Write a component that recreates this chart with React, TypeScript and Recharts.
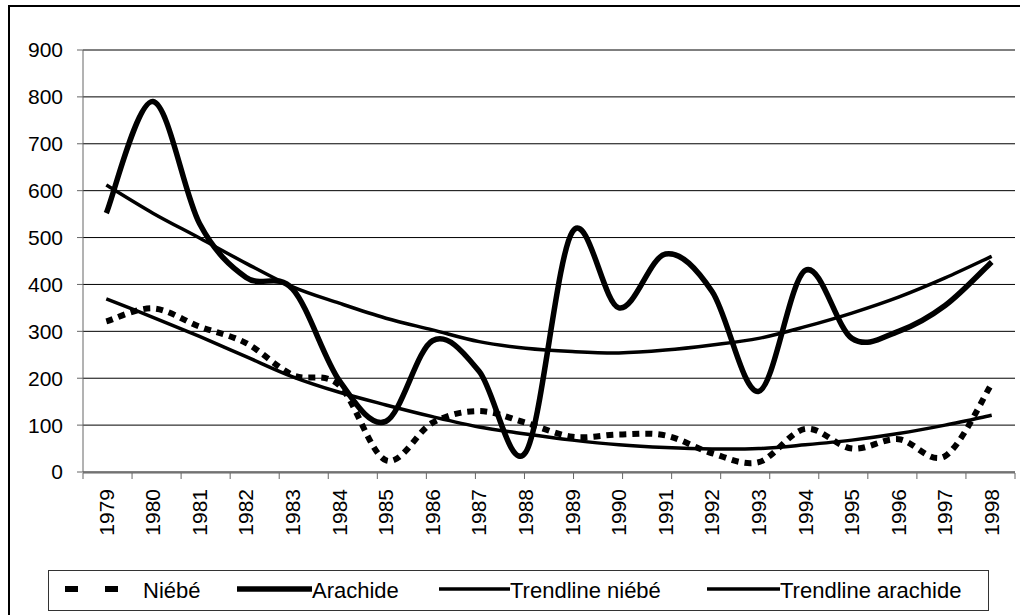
import { LineChart, Line, XAxis, YAxis, CartesianGrid, ReferenceArea } from "recharts";

const years = [
  "1979", "1980", "1981", "1982", "1983", "1984", "1985", "1986", "1987", "1988",
  "1989", "1990", "1991", "1992", "1993", "1994", "1995", "1996", "1997", "1998",
];
const niebe = [321, 349, 310, 275, 207, 185, 25, 105, 130, 105, 75, 80, 78, 40, 21, 92, 50, 70, 34, 188];
const arachide = [552, 790, 530, 415, 390, 195, 108, 280, 215, 42, 512, 350, 465, 385, 172, 430, 285, 300, 355, 448];
const trendNiebe = [369, 330, 289, 246, 203, 170, 143, 118, 96, 81, 68, 58, 52, 49, 50, 58, 68, 82, 100, 121];
const trendArachide = [612, 552, 499, 445, 395, 360, 328, 303, 278, 264, 257, 254, 260, 271, 285, 310, 339, 373, 414, 460];
const yTicks = [0, 100, 200, 300, 400, 500, 600, 700, 800, 900];

const data = years.map((year, i) => ({
  year,
  niebe: niebe[i],
  arachide: arachide[i],
  trendNiebe: trendNiebe[i],
  trendArachide: trendArachide[i],
}));

const edgeTicks = years.map((_, i) => i).concat([years.length]);
const font = "'Liberation Sans', Arial, sans-serif";

// smoothed line like the spreadsheet one (catmull-rom style bezier)
const smooth = (context: any) => {
  let pts: number[][] = [];
  return {
    areaStart() {},
    areaEnd() {},
    lineStart() {
      pts = [];
    },
    point(x: number, y: number) {
      pts.push([+x, +y]);
    },
    lineEnd() {
      if (!pts.length) return;
      context.moveTo(pts[0][0], pts[0][1]);
      for (let i = 0; i < pts.length - 1; i++) {
        const p0 = pts[i - 1] || pts[i];
        const p1 = pts[i];
        const p2 = pts[i + 1];
        const p3 = pts[i + 2] || p2;
        context.bezierCurveTo(
          p1[0] + (p2[0] - p0[0]) / 6,
          p1[1] + (p2[1] - p0[1]) / 6,
          p2[0] - (p3[0] - p1[0]) / 6,
          p2[1] - (p3[1] - p1[1]) / 6,
          p2[0],
          p2[1]
        );
      }
    },
  };
};

const YearTick = ({ x, y, payload }: any) => (
  <text
    x={x}
    y={y}
    transform={`rotate(-90 ${x} ${y})`}
    textAnchor="end"
    dy="0.35em"
    fontSize={21}
    fontFamily={font}
    fill="#000"
  >
    {payload.value}
  </text>
);

const ChartLegend = () => (
  <svg
    width={941}
    height={41}
    style={{ position: "absolute", left: 48, top: 570 }}
    fontFamily={font}
    fontSize={22}
  >
    <rect x={0.5} y={0.5} width={940} height={40} fill="#fff" stroke="#333" />
    <rect x={17} y={16} width={13} height={6} fill="#000" />
    <rect x={57} y={16} width={13} height={6} fill="#000" />
    <text x={95} y={28}>Niébé</text>
    <line x1={189} x2={264} y1={19} y2={19} stroke="#000" strokeWidth={5.5} />
    <text x={264} y={28}>Arachide</text>
    <line x1={391} x2={462} y1={19} y2={19} stroke="#000" strokeWidth={3.5} />
    <text x={462} y={28}>Trendline niébé</text>
    <line x1={659} x2={732} y1={19} y2={19} stroke="#000" strokeWidth={3.5} />
    <text x={732} y={28}>Trendline arachide</text>
  </svg>
);

export default function App() {
  return (
    <div
      style={{
        position: "absolute",
        left: 0,
        top: 0,
        width: 1020,
        height: 615,
        overflow: "hidden",
        background: "#fff",
      }}
    >
      <div
        style={{
          position: "absolute",
          left: 8,
          top: 5,
          width: 1020,
          height: 620,
          borderLeft: "2px solid #000",
          borderTop: "2px solid #000",
        }}
      />
      <div style={{ position: "absolute", left: 0, top: 0 }}>
        <LineChart width={1020} height={615} data={data} margin={{ top: 50, right: 5, left: 23, bottom: 63 }}>
          <CartesianGrid horizontal vertical={false} stroke="#000" strokeWidth={1} />
          <XAxis
            dataKey="year"
            scale="band"
            interval={0}
            height={1}
            axisLine={false}
            tickLine={false}
            tickSize={6}
            tickMargin={11}
            tick={<YearTick />}
          />
          <XAxis
            xAxisId="edges"
            type="number"
            domain={[0, years.length]}
            allowDataOverflow
            ticks={edgeTicks}
            tickFormatter={() => ""}
            height={79}
            tickSize={6}
            stroke="#666"
            tickLine={{ stroke: "#666" }}
          />
          <YAxis
            domain={[0, 900]}
            ticks={yTicks}
            width={60}
            tickSize={6}
            tickMargin={14}
            stroke="#666"
            tick={{ fill: "#000", fontSize: 21, fontFamily: font }}
          />
          <ReferenceArea
            xAxisId="edges"
            x1={0}
            x2={years.length}
            y1={0}
            y2={900}
            fill="none"
            stroke="#808080"
            strokeWidth={2}
          />
          <Line dataKey="trendArachide" type={smooth as any} stroke="#000" strokeWidth={3.5} dot={false} activeDot={false} isAnimationActive={false} />
          <Line dataKey="trendNiebe" type={smooth as any} stroke="#000" strokeWidth={3.5} dot={false} activeDot={false} isAnimationActive={false} />
          <Line dataKey="arachide" type={smooth as any} stroke="#000" strokeWidth={5.5} dot={false} activeDot={false} isAnimationActive={false} />
          <Line
            dataKey="niebe"
            type={smooth as any}
            stroke="#000"
            strokeWidth={6}
            strokeDasharray="7 6"
            dot={false}
            activeDot={false}
            isAnimationActive={false}
          />
        </LineChart>
      </div>
      <ChartLegend />
    </div>
  );
}
